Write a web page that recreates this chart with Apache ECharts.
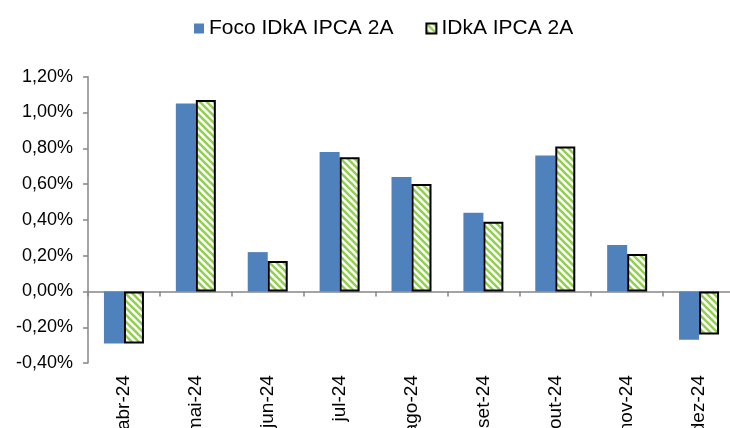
<!DOCTYPE html>
<html>
<head>
<meta charset="utf-8">
<script src="https://cdn.jsdelivr.net/npm/echarts@6/dist/echarts.min.js"></script>
<style>
  html, body { margin: 0; padding: 0; background: #fff; }
  #chart { width: 730px; height: 428px; }
</style>
</head>
<body>
<div id="chart"></div>
<script>
// dados (% ao mês)
var months = ['abr-24', 'mai-24', 'jun-24', 'jul-24', 'ago-24', 'set-24', 'out-24', 'nov-24', 'dez-24'];
var focoIdka = [-0.29, 1.05, 0.22, 0.78, 0.64, 0.44, 0.76, 0.26, -0.27];
var idkaIpca = [-0.29, 1.07, 0.17, 0.75, 0.60, 0.39, 0.81, 0.21, -0.24];
var seriesNames = ['Foco IDkA IPCA 2A', 'IDkA IPCA 2A'];

// hachura verde em diagonal
function makeStripes() {
  var c = document.createElement('canvas');
  c.width = 7; c.height = 7;
  var ctx = c.getContext('2d');
  ctx.fillStyle = '#ffffff';
  ctx.fillRect(0, 0, 7, 7);
  ctx.strokeStyle = '#92D050';
  ctx.lineWidth = 2.6;
  ctx.beginPath();
  ctx.moveTo(-1, -1); ctx.lineTo(8, 8);
  ctx.moveTo(-8, -1); ctx.lineTo(1, 8);
  ctx.moveTo(6, -1); ctx.lineTo(15, 8);
  ctx.stroke();
  return c;
}

var chart = echarts.init(document.getElementById('chart'), null, { renderer: 'canvas' });

var fmt = function (v) {
  return v.toFixed(2).replace('.', ',') + '%';
};

var option = {
  backgroundColor: '#ffffff',
  animation: false,
  textStyle: { fontFamily: 'Liberation Sans, Arial, sans-serif' },
  legend: {
    top: 13,
    left: 189,
    itemWidth: 10,
    itemHeight: 10,
    itemGap: 32,
    icon: 'rect',
    textStyle: { fontSize: 21, color: '#000' },
    data: seriesNames
  },
  grid: { left: 88, right: -5, top: 76.7, bottom: 64.9, containLabel: false, outerBoundsMode: 'none' },
  xAxis: [
    {
      // linha do zero com marcas
      type: 'category',
      data: months,
      axisLine: { onZero: true, lineStyle: { color: '#868686', width: 1.5 } },
      axisTick: { show: true, length: 5, lineStyle: { color: '#868686', width: 1.5 } },
      axisLabel: { show: false }
    },
    {
      // rótulos no pé do gráfico
      type: 'category',
      data: months,
      position: 'bottom',
      axisLine: { show: false, onZero: false },
      axisTick: { show: false },
      axisLabel: {
        rotate: 90,
        margin: 12,
        fontSize: 19,
        color: '#000'
      }
    }
  ],
  yAxis: {
    type: 'value',
    min: -0.4,
    max: 1.2,
    interval: 0.2,
    splitLine: { show: false },
    axisLine: { show: true, lineStyle: { color: '#868686', width: 1.5 } },
    axisTick: { show: true, length: 5, lineStyle: { color: '#868686', width: 1.5 } },
    axisLabel: {
      fontSize: 18,
      color: '#000',
      margin: 15,
      formatter: fmt
    }
  },
  series: [
    {
      name: seriesNames[0],
      type: 'bar',
      data: focoIdka,
      barWidth: 20,
      barGap: '0%',
      itemStyle: { color: '#4F81BD' }
    },
    {
      name: seriesNames[1],
      type: 'bar',
      data: idkaIpca,
      barWidth: 20,
      itemStyle: {
        color: { image: makeStripes(), repeat: 'repeat' },
        borderColor: '#000',
        borderWidth: 2
      }
    }
  ]
};

chart.setOption(option);
</script>
</body>
</html>
